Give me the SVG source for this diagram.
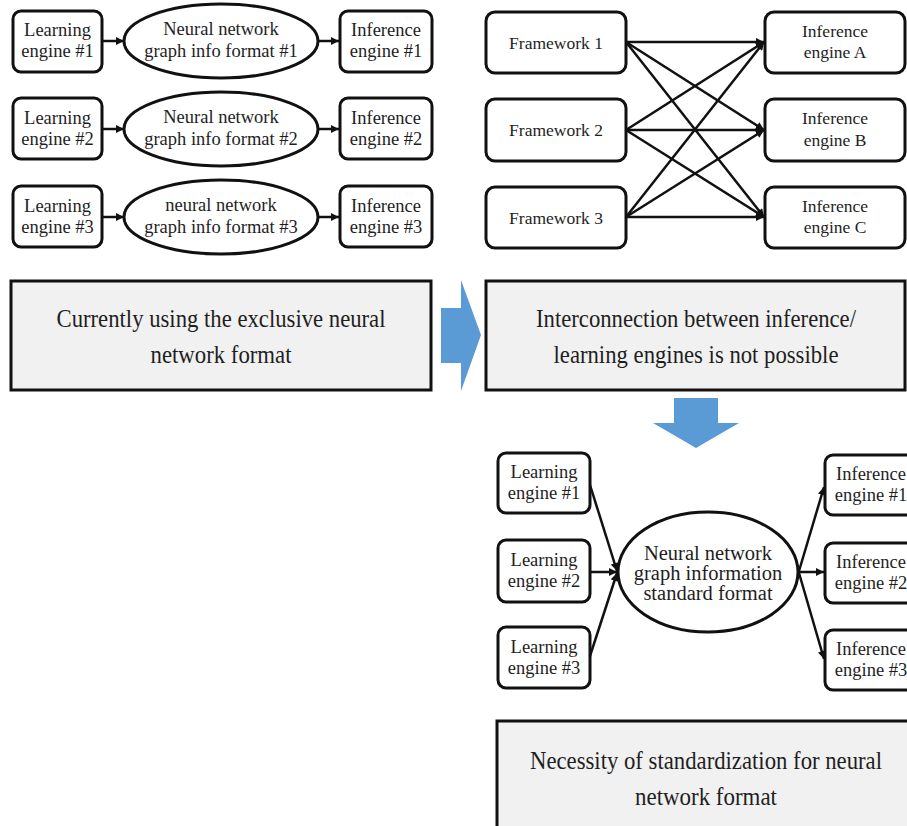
<svg xmlns="http://www.w3.org/2000/svg" width="907" height="826" viewBox="0 0 907 826">
<defs>
<marker id="ah" viewBox="0 0 10 10" refX="10" refY="5" markerWidth="9" markerHeight="8" markerUnits="userSpaceOnUse" orient="auto">
<path d="M0,0 L10,5 L0,10 z" fill="#111"/>
</marker>
<style>
.box{fill:#fff;stroke:#111;stroke-width:3}
.ell{fill:#fff;stroke:#111;stroke-width:3}
.big{fill:#f1f1f1;stroke:#111;stroke-width:3}
.blue{fill:#5b9bd5}
.c line{stroke:#111;stroke-width:2.5;marker-end:url(#ah)}
text{fill:#1e1e1e;text-anchor:middle}
.s{font-size:18.5px}
.f{font-size:17.5px}
.e{font-size:20.5px}
.l{font-size:26px}
</style>
</defs>
<rect width="907" height="826" fill="#fff"/>
<g font-family="'Liberation Serif', 'Times New Roman', serif">

<!-- Top-left -->
<g id="le1"><rect class="box" x="13" y="11" width="89" height="61" rx="8"/><text class="s" x="57.5" y="36">Learning</text><text class="s" x="57.5" y="57">engine #1</text></g>
<g id="gf1"><ellipse class="ell" cx="221" cy="41" rx="97" ry="37"/><text class="s" x="221" y="35">Neural network</text><text class="s" x="221" y="57">graph info format #1</text></g>
<g id="ie1"><rect class="box" x="340" y="11" width="92" height="61" rx="8"/><text class="s" x="386" y="36">Inference</text><text class="s" x="386" y="57">engine #1</text></g>

<g id="le2"><rect class="box" x="13" y="98" width="89" height="61" rx="8"/><text class="s" x="57.5" y="124">Learning</text><text class="s" x="57.5" y="145">engine #2</text></g>
<g id="gf2"><ellipse class="ell" cx="221" cy="129" rx="97" ry="37"/><text class="s" x="221" y="123">Neural network</text><text class="s" x="221" y="145">graph info format #2</text></g>
<g id="ie2"><rect class="box" x="340" y="98" width="92" height="61" rx="8"/><text class="s" x="386" y="124">Inference</text><text class="s" x="386" y="145">engine #2</text></g>

<g id="le3"><rect class="box" x="13" y="186" width="89" height="61" rx="8"/><text class="s" x="57.5" y="212">Learning</text><text class="s" x="57.5" y="233">engine #3</text></g>
<g id="gf3"><ellipse class="ell" cx="221" cy="217" rx="97" ry="37"/><text class="s" x="221" y="211">neural network</text><text class="s" x="221" y="233">graph info format #3</text></g>
<g id="ie3"><rect class="box" x="340" y="186" width="92" height="61" rx="8"/><text class="s" x="386" y="212">Inference</text><text class="s" x="386" y="233">engine #3</text></g>

<!-- Top-right -->
<g id="fw1"><rect class="box" x="486" y="12" width="140" height="61" rx="9"/><text class="f" x="556" y="49">Framework 1</text></g>
<g id="fw2"><rect class="box" x="486" y="99" width="140" height="62" rx="9"/><text class="f" x="556" y="136">Framework 2</text></g>
<g id="fw3"><rect class="box" x="486" y="187" width="140" height="61" rx="9"/><text class="f" x="556" y="224">Framework 3</text></g>
<g id="ia"><rect class="box" x="765" y="12" width="140" height="61" rx="9"/><text class="f" x="835" y="37">Inference</text><text class="f" x="835" y="58">engine A</text></g>
<g id="ib"><rect class="box" x="765" y="99" width="140" height="62" rx="9"/><text class="f" x="835" y="124">Inference</text><text class="f" x="835" y="146">engine B</text></g>
<g id="ic"><rect class="box" x="765" y="187" width="140" height="61" rx="9"/><text class="f" x="835" y="212">Inference</text><text class="f" x="835" y="233">engine C</text></g>

<!-- Middle boxes -->
<g id="cur"><rect class="big" x="11" y="281" width="420" height="109"/><text class="l" x="221" y="327" textLength="329" lengthAdjust="spacingAndGlyphs">Currently using the exclusive neural</text><text class="l" x="221" y="363" textLength="141" lengthAdjust="spacingAndGlyphs">network format</text></g>
<g id="arr1"><polygon class="blue" points="441,308 461,308 461,280 481,335 461,391 461,363 441,363"/></g>
<g id="inter"><rect class="big" x="486" y="281" width="419" height="109"/><text class="l" x="696" y="327" textLength="320" lengthAdjust="spacingAndGlyphs">Interconnection between inference/</text><text class="l" x="696" y="363" textLength="285" lengthAdjust="spacingAndGlyphs">learning engines is not possible</text></g>
<g id="arr2"><polygon class="blue" points="674,398 718,398 718,423 739,423 696,448 653,423 674,423"/></g>

<!-- Bottom -->
<g id="ble1"><rect class="box" x="498" y="453" width="92" height="60" rx="8"/><text class="s" x="544" y="478">Learning</text><text class="s" x="544" y="499">engine #1</text></g>
<g id="ble2"><rect class="box" x="498" y="540" width="92" height="62" rx="8"/><text class="s" x="544" y="566">Learning</text><text class="s" x="544" y="587">engine #2</text></g>
<g id="ble3"><rect class="box" x="498" y="627" width="92" height="61" rx="8"/><text class="s" x="544" y="653">Learning</text><text class="s" x="544" y="674">engine #3</text></g>
<g id="std"><ellipse class="ell" cx="708" cy="572" rx="90" ry="60"/><text class="e" x="708" y="560">Neural network</text><text class="e" x="708" y="580">graph information</text><text class="e" x="708" y="600">standard format</text></g>
<g id="bie1"><rect class="box" x="825" y="455" width="94" height="60" rx="8"/><text class="s" x="871" y="480">Inference</text><text class="s" x="871" y="501">engine #1</text></g>
<g id="bie2"><rect class="box" x="825" y="543" width="94" height="60" rx="8"/><text class="s" x="871" y="568">Inference</text><text class="s" x="871" y="589">engine #2</text></g>
<g id="bie3"><rect class="box" x="825" y="630" width="94" height="60" rx="8"/><text class="s" x="871" y="655">Inference</text><text class="s" x="871" y="676">engine #3</text></g>
<g id="nec"><rect class="big" x="497" y="721" width="425" height="120"/><text class="l" x="706" y="769" textLength="352" lengthAdjust="spacingAndGlyphs">Necessity of standardization for neural</text><text class="l" x="706" y="805" textLength="142" lengthAdjust="spacingAndGlyphs">network format</text></g>
</g>

<!-- Connectors -->
<g id="connectors" class="c">
<line x1="102" y1="41" x2="124" y2="41"/>
<line x1="318" y1="41" x2="339" y2="41"/>
<line x1="102" y1="129" x2="124" y2="129"/>
<line x1="318" y1="129" x2="339" y2="129"/>
<line x1="102" y1="217" x2="124" y2="217"/>
<line x1="318" y1="217" x2="339" y2="217"/>

<line x1="626" y1="42" x2="764" y2="42"/>
<line x1="626" y1="42" x2="764" y2="130"/>
<line x1="626" y1="42" x2="764" y2="217"/>
<line x1="626" y1="130" x2="764" y2="42"/>
<line x1="626" y1="130" x2="764" y2="130"/>
<line x1="626" y1="130" x2="764" y2="217"/>
<line x1="626" y1="217" x2="764" y2="42"/>
<line x1="626" y1="217" x2="764" y2="130"/>
<line x1="626" y1="217" x2="764" y2="217"/>

<line x1="590" y1="485" x2="617" y2="571"/>
<line x1="590" y1="572" x2="617" y2="572"/>
<line x1="590" y1="656" x2="617" y2="573"/>
<line x1="799" y1="571" x2="824" y2="487"/>
<line x1="799" y1="572" x2="824" y2="572"/>
<line x1="799" y1="573" x2="824" y2="659"/>
</g>
</svg>
